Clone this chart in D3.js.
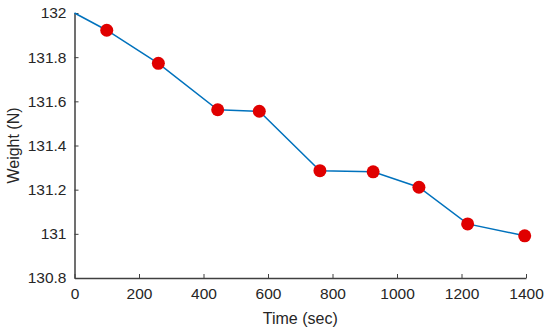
<!DOCTYPE html>
<html>
<head>
<meta charset="utf-8">
<script src="https://cdn.jsdelivr.net/npm/d3@7"></script>
<style>
  body { margin: 0; background: #fff; }
  svg text { font-family: "Liberation Sans", Arial, sans-serif; fill: #262626; }
</style>
</head>
<body>
<div id="chart"></div>
<script>
// data
const timeSec  = [0, 100, 260, 444, 573, 761, 926, 1068, 1219, 1396];
const weightN  = [132.0, 131.922, 131.772, 131.562, 131.555, 131.286, 131.281, 131.211, 131.045, 130.991];
const xTicks   = [0, 200, 400, 600, 800, 1000, 1200, 1400];
const yTicks   = [130.8, 131, 131.2, 131.4, 131.6, 131.8, 132];

const width = 550, height = 333;
const margin = { top: 13, right: 24, bottom: 55, left: 74.5 };

const svg = d3.select('#chart').append('svg')
  .attr('width', width)
  .attr('height', height);

const x = d3.scaleLinear().domain([0, 1400]).range([margin.left, width - margin.right]);
const y = d3.scaleLinear().domain([130.8, 132]).range([height - margin.bottom, margin.top]);

const axisColor = '#404040';

// x axis, ticks inward
const gx = svg.append('g')
  .attr('transform', `translate(0,${y(130.8)})`)
  .call(d3.axisBottom(x).tickValues(xTicks).tickSizeInner(-4).tickSizeOuter(0)
    .tickPadding(10).tickFormat(d3.format('d')));
gx.select('.domain').attr('stroke', axisColor).attr('stroke-width', 1.5);
gx.selectAll('.tick line').attr('stroke', axisColor).attr('stroke-width', 1);
gx.selectAll('.tick text').attr('font-size', 15.5).attr('fill', '#262626');

// y axis, ticks inward
const gy = svg.append('g')
  .attr('transform', `translate(${x(0)},0)`)
  .call(d3.axisLeft(y).tickValues(yTicks).tickSizeInner(-4).tickSizeOuter(0)
    .tickPadding(8).tickFormat(d => d3.format('~g')(d)));
gy.select('.domain').attr('stroke', axisColor).attr('stroke-width', 1.5);
gy.selectAll('.tick line').attr('stroke', axisColor).attr('stroke-width', 1);
gy.selectAll('.tick text').attr('font-size', 15.5).attr('fill', '#262626');

// labels
svg.append('text')
  .attr('x', (x(0) + x(1400)) / 2)
  .attr('y', 324)
  .attr('text-anchor', 'middle')
  .attr('font-size', 16)
  .text('Time (sec)');

svg.append('text')
  .attr('transform', `translate(19,${(y(130.8) + y(132)) / 2}) rotate(-90)`)
  .attr('text-anchor', 'middle')
  .attr('font-size', 16)
  .text('Weight (N)');

const pts = timeSec.map((t, i) => ({ t, w: weightN[i] }));

svg.append('path')
  .datum(pts)
  .attr('fill', 'none')
  .attr('stroke', '#0072BD')
  .attr('stroke-width', 1.5)
  .attr('d', d3.line().x(d => x(d.t)).y(d => y(d.w)));

// markers (first point has none)
svg.append('g').selectAll('circle')
  .data(pts.slice(1))
  .join('circle')
  .attr('cx', d => x(d.t))
  .attr('cy', d => y(d.w))
  .attr('r', 6.5)
  .attr('fill', '#e00000');
</script>
</body>
</html>
